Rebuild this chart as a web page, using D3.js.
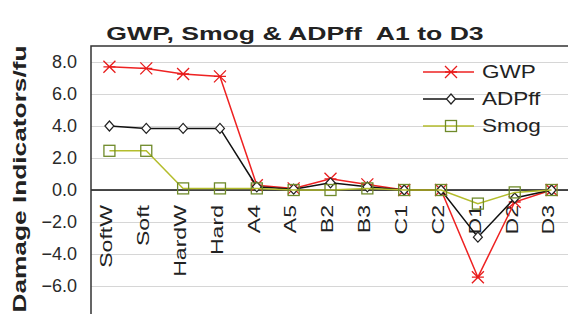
<!DOCTYPE html>
<html>
<head>
	<meta charset="utf-8">
	<title>GWP, Smog & ADPff A1 to D3</title>
</head>

<style>
	body { margin:0; background:#fff; }
	text { font-family:"Liberation Sans", Arial, sans-serif; }
</style>

<body>
<script src="https://d3js.org/d3.v7.min.js" charset="utf-8"></script>
<svg width="568" height="314"></svg>
<script>

	var categories = ["SoftW","Soft","HardW","Hard","A4","A5","B2","B3","C1","C2","D1","D2","D3"];
	var gwp   = [7.7, 7.6, 7.25, 7.1, 0.3, 0.1, 0.7, 0.35, 0.0, 0.0, -5.45, -0.75, 0.0];
	var adpff = [4.0, 3.85, 3.85, 3.85, 0.2, 0.05, 0.45, 0.2, 0.0, 0.0, -2.95, -0.5, 0.0];
	var smog  = [2.45, 2.45, 0.1, 0.1, 0.1, 0.0, 0.0, 0.1, 0.0, 0.0, -0.85, -0.15, 0.0];
	var yTicks = [8, 6, 4, 2, 0, -2, -4, -6];
	var seriesNames = ["GWP","ADPff","Smog"];

	var svg = d3.select("svg");
	var plot = {left:91, top:46, right:570, bottom:318};

	var x = d3.scalePoint()
			  .domain(categories)
			  .range([plot.left, plot.right])
			  .padding(0.5);

	var y = d3.scaleLinear()
			  .domain([-8, 9])
			  .range([plot.bottom, plot.top]);

	// gridlines
	svg.append("g")
	   .attr("transform","translate("+ plot.left +",0)")
	   .call(d3.axisLeft(y).tickValues(yTicks).tickSize(-(plot.right-plot.left)).tickFormat(""))
	   .call(function(g){
	   		g.select(".domain").remove();
	   		g.selectAll("line").attr("stroke","#d6d6d6").attr("stroke-width",1);
	   });

	// y tick labels
	svg.append("g")
	   .attr("transform","translate(77,0)")
	   .call(d3.axisLeft(y).tickValues(yTicks).tickSize(0).tickPadding(0).tickFormat(d3.format(".1f")))
	   .call(function(g){
	   		g.select(".domain").remove();
	   		g.selectAll("text").attr("font-size",18).attr("fill","#2a2a2a")
	   		 .attr("font-family","'Liberation Sans', Arial, sans-serif");
	   });

	// zero line
	svg.append("line")
	   .attr("x1",plot.left).attr("x2",plot.right)
	   .attr("y1",y(0)).attr("y2",y(0))
	   .attr("stroke","#111").attr("stroke-width",1.5);

	// x labels, rotated
	svg.append("g")
	   .attr("transform","translate(0,"+ y(0) +")")
	   .call(d3.axisBottom(x).tickSize(0))
	   .call(function(g){
	   		g.select(".domain").remove();
	   		g.selectAll("text")
	   		 .attr("y",0).attr("x",0).attr("dy","0.32em")
	   		 .attr("text-anchor","end")
	   		 .attr("transform","translate(-3,15) rotate(-90) scale(1.4,1)")
	   		 .attr("font-size",16.5).attr("fill","#222")
	   		 .attr("font-family","'Liberation Sans', Arial, sans-serif");
	   });

	// plot border (left and top)
	svg.append("path")
	   .attr("d","M"+ plot.left +","+ plot.bottom +"V"+ plot.top +"H"+ plot.right)
	   .attr("fill","none").attr("stroke","#333").attr("stroke-width",1.5);

	var line = d3.line()
				 .x(function(d,i){ return x(categories[i]); })
				 .y(function(d){ return y(d); });

	var styles = {
		GWP:   {line:"#ee2222", marker:"#e81c1c", width:1.5},
		ADPff: {line:"#111111", marker:"#222222", width:1.5},
		Smog:  {line:"#b4bd2c", marker:"#6f8a2a", width:1.5}
	};

	function drawMarker(g, name, cx, cy){
		var s = styles[name];
		if(name === "GWP"){
			g.append("path")
			 .attr("d","M"+(cx-6)+","+(cy-6)+"L"+(cx+6)+","+(cy+6)+"M"+(cx+6)+","+(cy-6)+"L"+(cx-6)+","+(cy+6)+"M"+(cx-6)+","+cy+"L"+(cx+6)+","+cy)
			 .attr("stroke",s.marker).attr("stroke-width",1.3).attr("fill","none");
		} else if(name === "ADPff"){
			g.append("path")
			 .attr("d","M"+cx+","+(cy-5)+"L"+(cx+4.5)+","+cy+"L"+cx+","+(cy+5)+"L"+(cx-4.5)+","+cy+"Z")
			 .attr("stroke",s.marker).attr("stroke-width",1.2).attr("fill","#fff");
		} else {
			g.append("rect")
			 .attr("x",cx-5.5).attr("y",cy-5.5).attr("width",11).attr("height",11)
			 .attr("stroke",s.marker).attr("stroke-width",1.3).attr("fill","none");
		}
	}

	var data = {GWP:gwp, ADPff:adpff, Smog:smog};

	seriesNames.forEach(function(name){
		var g = svg.append("g");
		g.append("path")
		 .attr("d",line(data[name]))
		 .attr("fill","none")
		 .attr("stroke",styles[name].line)
		 .attr("stroke-width",styles[name].width);
		data[name].forEach(function(v,i){
			drawMarker(g, name, x(categories[i]), y(v));
		});
	});

	// legend
	var legend = svg.append("g");
	seriesNames.forEach(function(name,i){
		var ly = 72 + i*27;
		legend.append("line")
			  .attr("x1",423).attr("x2",474)
			  .attr("y1",ly).attr("y2",ly)
			  .attr("stroke",styles[name].line).attr("stroke-width",1.5);
		drawMarker(legend, name, 451, ly);
		legend.append("text")
			  .attr("transform","translate(482,"+ ly +") scale(1.25,1)")
			  .attr("dy","0.35em")
			  .attr("font-size",18).attr("fill","#222")
			  .text(name);
	});

	// title
	svg.append("text")
	   .attr("transform","translate(295,40) scale(1.4,1)")
	   .attr("text-anchor","middle")
	   .style("white-space","pre")
	   .attr("font-size",19).attr("font-weight","bold").attr("fill","#222")
	   .text("GWP, Smog & ADPff  A1 to D3");

	// y axis title
	svg.append("text")
	   .attr("transform","translate(26,179) rotate(-90) scale(1.46,1)")
	   .attr("text-anchor","middle")
	   .attr("font-size",18).attr("font-weight","bold").attr("fill","#222")
	   .text("Damage Indicators/fu");

</script>
</body>
</html>
